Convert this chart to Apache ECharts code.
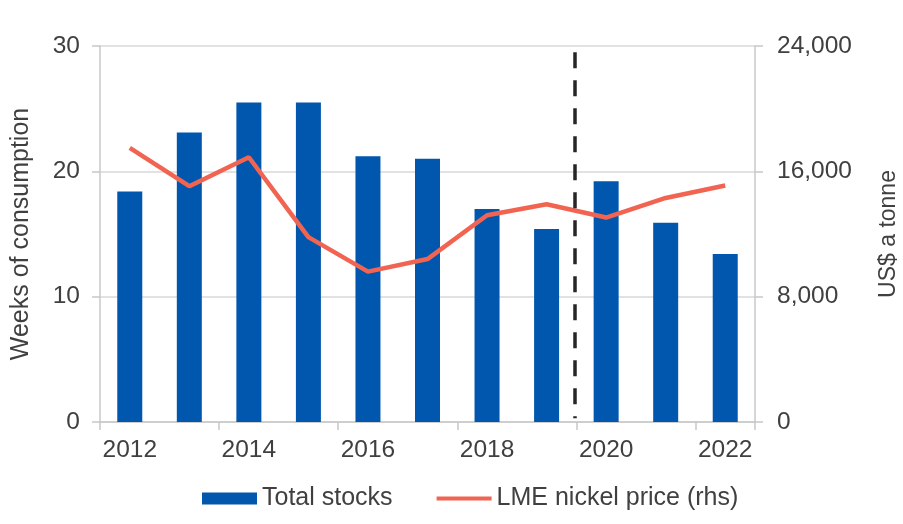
<!DOCTYPE html>
<html>
<head>
<meta charset="utf-8">
<script src="https://cdn.jsdelivr.net/npm/echarts@6/dist/echarts.min.js"></script>
<style>
html,body{margin:0;padding:0;background:#fff;}
#chart{width:903px;height:524px;}
</style>
</head>
<body>
<div id="chart"></div>
<script>
var years = ['2012','2013','2014','2015','2016','2017','2018','2019','2020','2021','2022'];
var totalStocks = [18.4, 23.1, 25.5, 25.5, 21.2, 21.0, 17.0, 15.4, 19.2, 15.9, 13.4];
var nickelPrice = [17500, 15050, 16900, 11800, 9600, 10400, 13200, 13900, 13050, 14300, 15100];
var leftTicks = [0, 10, 20, 30];
var rightTicks = [0, 8000, 16000, 24000];
var forecastDivider = 7.97;   // position between 2019 and 2020 on category index scale
var dividerSpan = [29.5, 0.3];

var textColor = '#404040';
var axisGray = '#c8c8c8';
var font = 'Liberation Sans, Arial, sans-serif';

var chart = echarts.init(document.getElementById('chart'));
chart.setOption({
  animation: false,
  textStyle: {fontFamily: font},
  grid: {left: 100, right: 148, top: 46, bottom: 102, containLabel: false, outerBoundsMode: 'none'},
  legend: {
    left: 197, top: 481,
    itemWidth: 55, itemHeight: 12, itemGap: 44,
    textStyle: {fontSize: 25, color: textColor, fontFamily: font},
    data: [
      {name: 'Total stocks', icon: 'rect'},
      {name: 'LME nickel price (rhs)', icon: 'path://M0,0H120V9H0Z'}
    ]
  },
  xAxis: [{
    type: 'category',
    data: years,
    boundaryGap: true,
    axisLine: {lineStyle: {color: axisGray, width: 1.5}},
    axisTick: {show: true, interval: 1, length: 8, lineStyle: {color: axisGray, width: 1.5}},
    axisLabel: {interval: 1, fontSize: 24.5, color: textColor, margin: 16, fontFamily: font},
    splitLine: {show: false}
  }, {
    type: 'value', min: 0, max: 11, show: false
  }],
  yAxis: [{
    type: 'value',
    min: leftTicks[0], max: leftTicks[leftTicks.length-1], interval: 10,
    name: 'Weeks of consumption',
    nameLocation: 'middle', nameRotate: 90, nameGap: 66,
    nameTextStyle: {fontSize: 25, color: textColor, fontFamily: font},
    axisLine: {show: true, lineStyle: {color: axisGray, width: 1.5}},
    axisTick: {show: true, length: 8, lineStyle: {color: axisGray, width: 1.5}},
    axisLabel: {fontSize: 24.5, color: textColor, margin: 20, fontFamily: font},
    splitLine: {show: true, lineStyle: {color: '#d9d9d9', width: 1.5}}
  }, {
    type: 'value',
    min: rightTicks[0], max: rightTicks[rightTicks.length-1], interval: 8000,
    position: 'right',
    name: 'US$ a tonne',
    nameLocation: 'middle', nameRotate: 90, nameGap: 122,
    nameTextStyle: {fontSize: 23, color: textColor, fontFamily: font},
    axisLine: {show: true, lineStyle: {color: axisGray, width: 1.5}},
    axisTick: {show: true, length: 8, lineStyle: {color: axisGray, width: 1.5}},
    axisLabel: {fontSize: 24.5, color: textColor, margin: 22, fontFamily: font,
      formatter: function(v){ return v.toLocaleString('en-US'); }},
    splitLine: {show: false}
  }],
  series: [{
    name: 'Total stocks',
    type: 'bar',
    data: totalStocks,
    barWidth: 25,
    itemStyle: {color: '#0057AD'},
    z: 2
  }, {
    name: 'LME nickel price (rhs)',
    type: 'line',
    yAxisIndex: 1,
    data: nickelPrice,
    symbol: 'none',
    showSymbol: false,
    lineStyle: {color: '#F26452', width: 4.5},
    itemStyle: {color: '#F26452'},
    z: 4
  }, {
    name: 'divider',
    type: 'line',
    xAxisIndex: 1,
    yAxisIndex: 0,
    data: [],
    silent: true,
    markLine: {
      silent: true,
      symbol: ['none', 'none'],
      label: {show: false},
      lineStyle: {color: '#262626', width: 3.5, type: [16, 12]},
      data: [[{coord: [forecastDivider, dividerSpan[0]]}, {coord: [forecastDivider, dividerSpan[1]]}]]
    },
    z: 3
  }]
});
</script>
</body>
</html>
